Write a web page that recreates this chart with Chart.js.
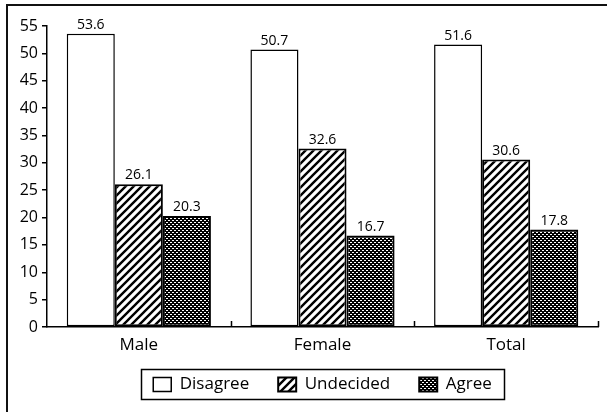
<!DOCTYPE html>
<html>
<head>
<meta charset="utf-8">
<script src="https://cdn.jsdelivr.net/npm/chart.js@4.4.1/dist/chart.umd.min.js"></script>
<style>
  html, body { margin: 0; padding: 0; background: #fff; }
  #wrap { width: 607px; height: 412px; position: relative; }
</style>
</head>
<body>
<div id="wrap"><canvas id="c" width="607" height="412"></canvas></div>
<script>
// Attitude by gender (percent)
const groups = ['Male', 'Female', 'Total'];
const seriesNames = ['Disagree', 'Undecided', 'Agree'];
const disagree = [53.6, 50.7, 51.6];
const undecided = [26.1, 32.6, 30.6];
const agree = [20.3, 16.7, 17.8];
const yMin = 0;
const yMax = 55;
const yStep = 5;

const FONT = '"Open Sans", "DejaVu Sans", sans-serif';

// Fill patterns for the three response types
function makeTile(size, paint) {
  const c = document.createElement('canvas');
  c.width = size; c.height = size;
  const g = c.getContext('2d');
  paint(g, size);
  return g.createPattern(c, 'repeat');
}
const hatchFill = makeTile(8, (g, s) => {
  g.fillStyle = '#fff';
  g.fillRect(0, 0, s, s);
  g.strokeStyle = '#000';
  g.lineWidth = 2.4;
  g.beginPath();
  for (let k = -1; k <= 1; k++) {
    g.moveTo(k * s - 1, s + 1);
    g.lineTo(k * s + s + 1, -1);
  }
  g.stroke();
});
const meshFill = makeTile(4, (g, s) => {
  g.fillStyle = '#000';
  g.fillRect(0, 0, s, s);
  g.fillStyle = '#fff';
  g.fillRect(0, 0, 2, 1);
  g.fillRect(2, 2, 2, 1);
});

// White page with the open frame along the top and left
const framePlugin = {
  id: 'frame',
  beforeDraw(chart) {
    const ctx = chart.ctx;
    ctx.save();
    ctx.fillStyle = '#fff';
    ctx.fillRect(0, 0, chart.width, chart.height);
    ctx.strokeStyle = '#111';
    ctx.lineWidth = 2;
    ctx.beginPath();
    ctx.moveTo(6, 5); ctx.lineTo(chart.width, 5);
    ctx.moveTo(7, 5); ctx.lineTo(7, chart.height);
    ctx.stroke();
    ctx.restore();
  }
};

// Lift the legend a little closer to the category labels
const legendLiftPlugin = {
  id: 'legendLift',
  afterLayout(chart) {
    const lg = chart.legend;
    if (!lg) return;
    lg.top -= 9;
    lg.bottom -= 9;
  }
};

// Short upward marks between the category groups
const groupTicksPlugin = {
  id: 'groupTicks',
  afterDraw(chart) {
    const x = chart.scales.x;
    const n = x.ticks.length;
    const step = (x.right - x.left) / n;
    const ctx = chart.ctx;
    ctx.save();
    ctx.strokeStyle = '#000';
    ctx.lineWidth = 1.5;
    ctx.beginPath();
    for (let i = 1; i <= n; i++) {
      const px = Math.round(x.left + i * step) + 0.5;
      ctx.moveTo(px, x.top);
      ctx.lineTo(px, x.top - 6);
    }
    ctx.stroke();
    ctx.restore();
  }
};

// Value printed above each bar
const valueLabelPlugin = {
  id: 'valueLabels',
  afterDatasetsDraw(chart) {
    const ctx = chart.ctx;
    ctx.save();
    ctx.fillStyle = '#000';
    ctx.font = '14px ' + FONT;
    ctx.textAlign = 'center';
    ctx.textBaseline = 'bottom';
    chart.data.datasets.forEach((ds, di) => {
      chart.getDatasetMeta(di).data.forEach((bar, i) => {
        ctx.fillText(ds.data[i].toFixed(1), bar.x, bar.y - 2);
      });
    });
    ctx.restore();
  }
};

// Box drawn around the legend entries
const legendBoxPlugin = {
  id: 'legendBox',
  afterDraw(chart) {
    const boxes = chart.legend && chart.legend.legendHitBoxes;
    if (!boxes || !boxes.length) return;
    let x0 = Infinity, x1 = -Infinity, y0 = Infinity, y1 = -Infinity;
    boxes.forEach(b => {
      x0 = Math.min(x0, b.left); x1 = Math.max(x1, b.left + b.width);
      y0 = Math.min(y0, b.top); y1 = Math.max(y1, b.top + b.height);
    });
    const ctx = chart.ctx;
    ctx.save();
    ctx.strokeStyle = '#000';
    ctx.lineWidth = 1.5;
    ctx.strokeRect(Math.round(x0 - 12) + 0.5, Math.round(y0 - 7) + 0.5,
                   Math.round(x1 - x0 + 24), Math.round(y1 - y0 + 13));
    ctx.restore();
  }
};

const fills = [ '#fff', hatchFill, meshFill ];
const values = [ disagree, undecided, agree ];

new Chart(document.getElementById('c'), {
  type: 'bar',
  data: {
    labels: groups,
    datasets: seriesNames.map((name, i) => ({
      label: name,
      data: values[i],
      backgroundColor: fills[i],
      borderColor: '#000',
      borderWidth: i === 0 ? 1.5 : 2,
      borderSkipped: false,
      barPercentage: 1,
      categoryPercentage: 0.785
    }))
  },
  options: {
    responsive: false,
    animation: false,
    devicePixelRatio: 1,
    layout: { padding: { left: 0, right: 9, top: 26, bottom: 0 } },
    plugins: {
      tooltip: { enabled: false },
      legend: {
        position: 'bottom',
        fullSize: false,
        labels: {
          boxWidth: 18,
          boxHeight: 14,
          padding: 29,
          color: '#000',
          font: { family: FONT, size: 17 }
        }
      }
    },
    scales: {
      x: {
        grid: { display: false },
        border: { display: true, color: '#000', width: 1.5 },
        ticks: { color: '#000', padding: 0, font: { family: FONT, size: 17 } },
        afterFit(scale) { scale.height = 29; }
      },
      y: {
        min: yMin,
        max: yMax,
        grid: { display: true, drawOnChartArea: false, drawTicks: true, tickLength: 5, color: '#000', lineWidth: 1.5 },
        border: { display: true, color: '#000', width: 1.5 },
        ticks: { stepSize: yStep, color: '#000', padding: 4, font: { family: FONT, size: 16 } },
        afterFit(scale) { scale.width = 47; }
      }
    }
  },
  plugins: [framePlugin, legendLiftPlugin, groupTicksPlugin, valueLabelPlugin, legendBoxPlugin]
});
</script>
</body>
</html>
